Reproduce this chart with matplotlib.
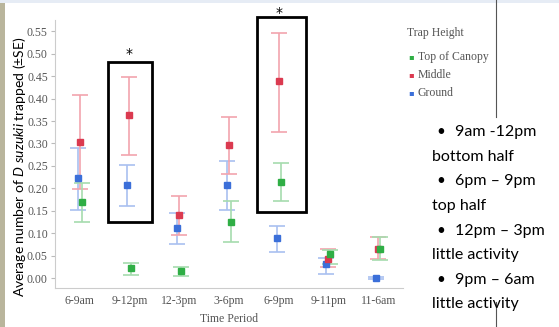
import matplotlib.pyplot as plt
from matplotlib.patches import Rectangle

periods = ["6-9am", "9-12pm", "12-3pm", "3-6pm", "6-9pm", "9-11pm", "11-6am"]

# mean and lower / upper SE limits per trap height
top_mean = [0.170, 0.022, 0.015, 0.125, 0.215, 0.053, 0.066]
top_lo = [0.125, 0.008, 0.004, 0.080, 0.171, 0.031, 0.041]
top_hi = [0.213, 0.034, 0.024, 0.171, 0.257, 0.062, 0.091]

mid_mean = [0.303, 0.363, 0.140, 0.296, 0.438, 0.043, 0.065]
mid_lo = [0.198, 0.275, 0.096, 0.231, 0.326, 0.025, 0.042]
mid_hi = [0.409, 0.449, 0.183, 0.360, 0.547, 0.066, 0.092]

gnd_mean = [0.222, 0.207, 0.111, 0.207, 0.090, 0.031, 0.000]
gnd_lo = [0.151, 0.160, 0.076, 0.152, 0.059, 0.010, -0.002]
gnd_hi = [0.290, 0.253, 0.145, 0.260, 0.116, 0.046, 0.002]

notes = ["9am -12pm", "bottom half", "6pm \u2013 9pm", "top half",
         "12pm \u2013 3pm", "little activity", "9pm \u2013 6am", "little activity"]

serif = "Liberation Serif"
grey = "#555555"

plt.rcParams["mathtext.fontset"] = "custom"
plt.rcParams["mathtext.it"] = "Lato:italic"
plt.rcParams["mathtext.rm"] = "Lato"

fig = plt.figure(figsize=(5.59, 3.27), dpi=100)

# slide background bits: photo edge on the left, pale band on top
fig.add_artist(Rectangle((0, 0), 5 / 559, 1, transform=fig.transFigure,
                         color="#b9b59c", lw=0))
fig.add_artist(Rectangle((0, 1 - 3 / 327), 1, 3 / 327, transform=fig.transFigure,
                         color="#e6ecf5", lw=0))

ax = fig.add_axes([0.098, 0.119, 0.623, 0.82])

series = [
    ("Ground", gnd_mean, gnd_lo, gnd_hi, "#3b6fd9", "#a9c0f0", -0.04),
    ("Middle", mid_mean, mid_lo, mid_hi, "#db3a50", "#f2a4ae", 0.0),
    ("Top of Canopy", top_mean, top_lo, top_hi, "#2fae45", "#a6dcae", 0.04),
]
for name, m, lo, hi, c, ec, dx in series:
    xs = [i + dx for i in range(len(periods))]
    err = [[a - b for a, b in zip(m, lo)], [b - a for a, b in zip(m, hi)]]
    ax.errorbar(xs, m, yerr=err, fmt="s", color=c, ms=4, ecolor=ec,
                elinewidth=1.2, capsize=6, capthick=1.2, label=name)

ax.set_xlim(-0.5, 6.5)
ax.set_ylim(-0.022, 0.575)
ax.set_xticks(range(len(periods)))
ax.set_xticklabels(periods, family=serif, fontsize=8.5, color=grey)
ax.set_yticks([i * 0.05 for i in range(12)])
ax.set_yticklabels(["%.2f" % (i * 0.05) for i in range(12)], family=serif,
                   fontsize=8.5, color=grey)
ax.tick_params(axis="x", length=0, pad=5)
ax.tick_params(axis="y", length=3, color="#bbbbbb", pad=2)
for s in ["top", "right"]:
    ax.spines[s].set_visible(False)
for s in ["left", "bottom"]:
    ax.spines[s].set_color("#cccccc")
ax.set_xlabel("Time Period", family=serif, fontsize=8.5, color=grey, labelpad=4)

fig.text(0.034, 0.49, r"Average number of $D\ suzukii$ trapped ($\pm$SE)",
         rotation=90, va="center", ha="center", family="Lato", fontsize=10)

# highlight boxes and asterisks
ax.add_patch(Rectangle((0.565, 0.125), 0.885, 0.356, fill=False, lw=2,
                       ec="black", clip_on=False, zorder=5))
ax.add_patch(Rectangle((3.56, 0.148), 0.98, 0.433, fill=False, lw=2,
                       ec="black", clip_on=False, zorder=5))
ax.text(1.0, 0.50, "*", ha="center", va="center", fontsize=10, clip_on=False)
ax.text(4.0, 0.59, "*", ha="center", va="center", fontsize=10, clip_on=False)

# legend drawn by hand like the slide
fig.text(0.728, 0.9, "Trap Height", family=serif, fontsize=8.5, color=grey,
         va="center")
for j, (name, c) in enumerate([("Top of Canopy", "#2fae45"), ("Middle", "#db3a50"),
                               ("Ground", "#3b6fd9")]):
    y = 1 - (57 + 18 * j) / 327
    fig.text(0.735, y, "\u25aa", color=c, fontsize=6, va="center", ha="center")
    fig.text(0.747, y, name, family=serif, fontsize=8.5, color=grey, va="center")

# slide divider line
fig.add_artist(plt.Line2D([0.887, 0.887], [1.0, 1 - 117 / 327], color="#555555", lw=0.8))
fig.add_artist(plt.Line2D([0.887, 0.887], [1 - 302 / 327, 0.0], color="#555555", lw=0.8))

ys = [131.7, 156.7, 181, 206, 230.7, 255, 280, 304]
for k, (t, yy) in enumerate(zip(notes, ys)):
    y = 1 - yy / 327
    if k % 2 == 0:
        fig.text(0.789, y, "\u2022", family="Lato", fontsize=11, va="center", ha="center")
        fig.text(0.814, y, t, family="Lato", fontsize=11.5, va="center")
    else:
        fig.text(0.772, y, t, family="Lato", fontsize=11.5, va="center")

fig.savefig("out.png", dpi=100)
